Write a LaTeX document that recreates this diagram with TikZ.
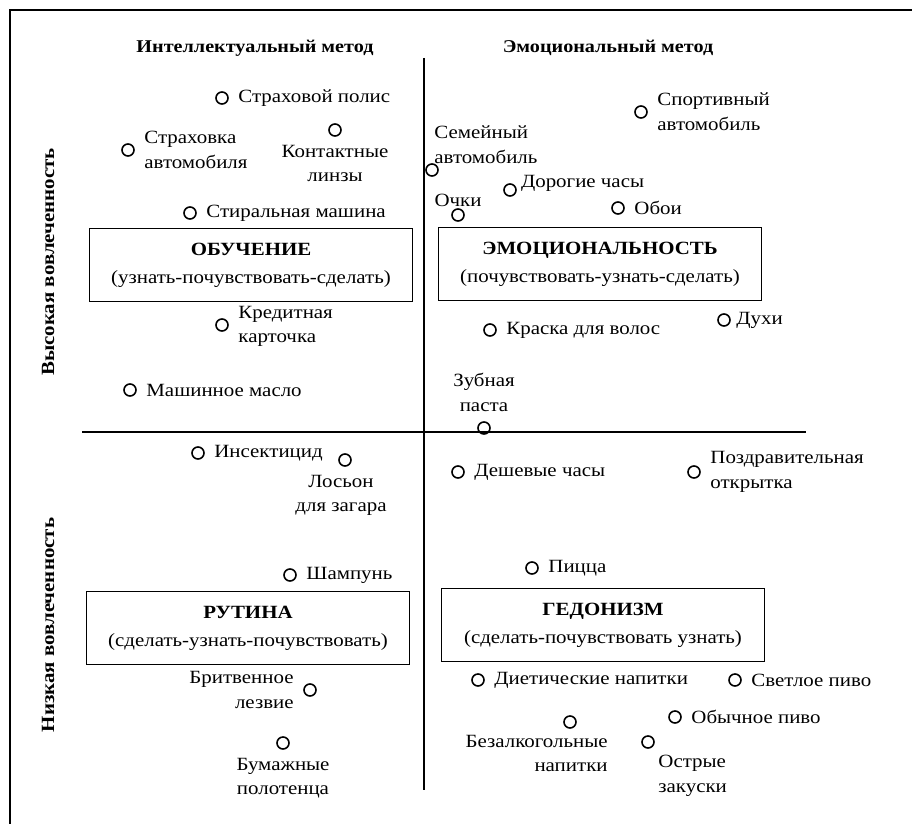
\documentclass[tikz,border=0pt]{standalone}
\usepackage{fontspec}
\setmainfont{Liberation Serif}[FakeStretch=1.12]
\usetikzlibrary{positioning}
\tikzset{
    x=0.75pt, y=-0.75pt, % one unit is one pixel of the scan
    item/.style={circle, draw, line width=1.2pt, inner sep=0pt, minimum size=9pt}, % a product on the grid
    lbl/.style={inner sep=1pt, font=\fontsize{14}{18.5}\selectfont, align=left}, % its name
    head/.style={font=\bfseries\fontsize{13.5}{15}\selectfont}, % column and row headings
    quadrant/.style={draw, line width=1.2pt, align=center, minimum width=242pt, minimum height=55pt,
        font=\fontsize{14}{21}\selectfont}, % the four strategy boxes
    node distance=6pt,
}

\begin{document}
\begin{tikzpicture}
    \useasboundingbox (0,0) rectangle (912,824);
    \draw[line width=1.1pt] (912,10) -- (10,10) -- (10,824);

    % axes
    \coordinate (axtop) at (424,58);
    \coordinate (axbot) at (424,790);
    \coordinate (axleft) at (82,432);
    \coordinate (axright) at (806,432);
    \draw[thick] (axtop) -- (axbot);
    \draw[thick] (axleft) -- (axright);

    % headings
    \node[head] (intel) at (255,48) {Интеллектуальный метод};
    \node[head] (emot) at (608,48) {Эмоциональный метод};
    \node[head, font=\bfseries\fontsize{14}{15}\selectfont, rotate=90] (high) at (48,262) {Высокая вовлеченность};
    \node[head, font=\bfseries\fontsize{14}{15}\selectfont, rotate=90] (low) at (48,625) {Низкая вовлеченность};

    % strategy boxes
    \node[quadrant] (learn) at (251,265) {\textbf{ОБУЧЕНИЕ}\\(узнать-почувствовать-сделать)};
    \node[quadrant] (affect) at (600,264) {\textbf{ЭМОЦИОНАЛЬНОСТЬ}\\(почувствовать-узнать-сделать)};
    \node[quadrant] (habit) at (248,628) {\textbf{РУТИНА}\\(сделать-узнать-почувствовать)};
    \node[quadrant] (satisfy) at (603,625) {\textbf{ГЕДОНИЗМ}\\(сделать-почувствовать узнать)};

    % high involvement, thinking
    \node[item] (polis) at (222,98) {};
    \node[lbl, right=of polis] {Страховой полис};
    \node[item] (autoins) at (128,150) {};
    \node[lbl, right=of autoins] {Страховка\\автомобиля};
    \node[item] (lens) at (335,130) {};
    \node[lbl, align=center, below=5pt of lens] {Контактные\\линзы};
    \node[item] (washer) at (190,213) {};
    \node[lbl, right=of washer] {Стиральная машина};
    \node[item] (card) at (222,325) {};
    \node[lbl, right=of card, yshift=-1pt] {Кредитная\\карточка};
    \node[item] (oil) at (130,390) {};
    \node[lbl, right=of oil] {Машинное масло};

    % high involvement, feeling
    \node[item] (sport) at (641,112) {};
    \node[lbl, right=of sport] {Спортивный\\автомобиль};
    \node[item] (family) at (432,170) {};
    \node[lbl, above right=0pt and -3pt of family] {Семейный\\автомобиль};
    \node[item] (glasses) at (458,215) {};
    \node[lbl, above=0pt of glasses] {Очки};
    \node[item] (watch) at (510,190) {};
    \node[lbl, right=2pt of watch, yshift=5pt] {Дорогие часы};
    \node[item] (paper) at (618,208) {};
    \node[lbl, right=of paper] {Обои};
    \node[item] (dye) at (490,330) {};
    \node[lbl, right=of dye] {Краска для волос};
    \node[item] (perfume) at (724,320) {};
    \node[lbl, right=3pt of perfume] {Духи};
    \node[item] (paste) at (484,428) {};
    \node[lbl, align=center, above=6pt of paste] {Зубная\\паста};

    % low involvement, thinking
    \node[item] (insect) at (198,453) {};
    \node[lbl, right=of insect] {Инсектицид};
    \node[item] (lotion) at (345,460) {};
    \node[lbl, align=center, below=5pt of lotion, xshift=-3pt] {Лосьон\\для загара};
    \node[item] (shampoo) at (290,575) {};
    \node[lbl, right=of shampoo] {Шампунь};
    \node[item] (razor) at (310,690) {};
    \node[lbl, align=right, left=of razor] {Бритвенное\\лезвие};
    \node[item] (towel) at (283,743) {};
    \node[lbl, align=center, below=5pt of towel] {Бумажные\\полотенца};

    % low involvement, feeling
    \node[item] (cheap) at (458,472) {};
    \node[lbl, right=of cheap] {Дешевые часы};
    \node[item] (greet) at (694,472) {};
    \node[lbl, right=of greet] {Поздравительная\\открытка};
    \node[item] (pizza) at (532,568) {};
    \node[lbl, right=of pizza] {Пицца};
    \node[item] (diet) at (478,680) {};
    \node[lbl, right=of diet] {Диетические напитки};
    \node[item] (light) at (735,680) {};
    \node[lbl, right=of light] {Светлое пиво};
    \node[item] (beer) at (675,717) {};
    \node[lbl, right=of beer] {Обычное пиво};
    \node[item] (soft) at (570,722) {};
    \node[lbl, align=right, below left=5pt and -33pt of soft] {Безалкогольные\\напитки};
    \node[item] (snack) at (648,742) {};
    \node[lbl, below right=5pt and 3pt of snack] {Острые\\закуски};
\end{tikzpicture}
\end{document}
